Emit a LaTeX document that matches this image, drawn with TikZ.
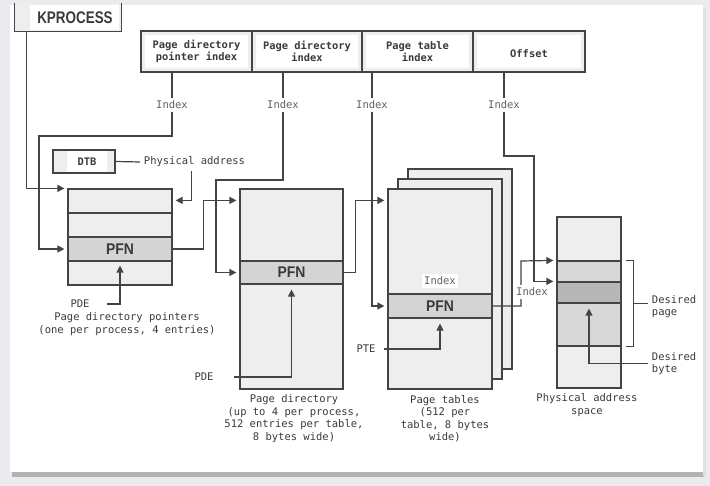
\documentclass[tikz,border=0pt]{standalone}
\usepackage{fontspec}
\setmonofont{DejaVu Sans Mono}
\setsansfont{Liberation Sans}
\usetikzlibrary{arrows.meta}
\definecolor{ln}{HTML}{444444}
\definecolor{txt}{HTML}{3A3A3A}
\definecolor{cell}{HTML}{EEEEEE}
\definecolor{pfncol}{HTML}{D4D4D4}
\definecolor{pg}{HTML}{D8D8D8}
\definecolor{byt}{HTML}{B7B7B7}
\definecolor{bg}{HTML}{E9EBEE}
\newcommand\bigsf[2]{\scalebox{#1}[1]{\sffamily\bfseries #2}}
\newcommand\pfn{\bigsf{0.9}{\fontsize{15.5}{15}\selectfont PFN}}
\begin{document}
\begin{tikzpicture}[x=1pt,y=-1pt,line width=1.2pt,color=ln,
  every node/.style={font=\ttfamily\fontsize{10.5}{12.5}\selectfont,text=txt},
  tip/.style={-{Triangle[length=7pt,width=7pt]},shorten >=3pt},
  box/.style={draw=ln,fill=cell,inner sep=0,minimum width=#1},
  row/.style 2 args={draw=ln,fill=#1,inner sep=0,minimum height=#2},
  reg/.style 2 args={fill=cell,inner sep=0,path picture={\fill[white]
    ([shift={(#1,-1pt)}]path picture bounding box.north west) rectangle
    ([shift={(-#2,1pt)}]path picture bounding box.south east);}},
  fld/.style={draw=ln,fill=cell,inner sep=0,minimum height=41pt,align=center,
    font=\ttfamily\bfseries\fontsize{10.4}{12.5}\selectfont,path picture={\fill[white]
    ([shift={(4pt,-4pt)}]path picture bounding box.north west) rectangle
    ([shift={(-4pt,4pt)}]path picture bounding box.south east);}},
  lbl/.style={fill=white,inner sep=2.5pt,text=ln!85}]
% page and card
\fill[bg] (0,0) rectangle (710,486);
\fill[black!30] (12,470) rectangle (704,477);
\fill[black!12] (703,8) rectangle (706,476);
\fill[white] (10,5) rectangle (703,472);
\useasboundingbox (0,0) rectangle (710,486);
% registers
\node[reg={15pt}{2pt},minimum width=106pt,minimum height=27pt] (kproc) at (68,17.5) {};
\draw (kproc.north west) |- (kproc.south east) -- (kproc.north east);
\node at ([xshift=7pt]kproc.center) {\bigsf{0.8}{\fontsize{16.8}{17}\selectfont KPROCESS}};
\node[reg={14pt}{8pt},draw=ln,minimum width=62pt,minimum height=23pt] (dtb) at (84,161.5) {};
\node[font=\ttfamily\bfseries\fontsize{10.4}{12.5}\selectfont] at ([xshift=3pt]dtb.center) {DTB};
\node[anchor=west] (phys) at (140,162) {Physical address};
% virtual address fields
\foreach \n/\x/\w/\t in {1/196.5/111/{Page directory\\pointer index},2/307/110/{Page directory\\index},
  3/417.5/111/{Page table\\index},4/529/112/{\mbox{}\\Offset}}
  \node[fld,minimum width=\w pt] (f\n) at (\x,51.5) {\t};
\foreach \n/\x in {1/172,2/283,3/372,4/504} {
  \node[lbl] (ix\n) at (\x,105) {Index};
  \draw (ix\n.north |- f\n.south) -- (ix\n.north);
}
% page directory pointers
\foreach \n/\y/\c in {a/201/cell,b/225/cell,c/249/pfncol,d/273/cell}
  \node[box=104pt,row={\c}{24pt}] (pdpt\n) at (120,\y) {};
\node at (pdptc) {\pfn};
% page directory
\node[box=103pt,minimum height=200pt] (pd) at (291.5,289) {};
\node[box=103pt,row={pfncol}{23pt}] (pdpfn) at (291.5,272.5) {\pfn};
% page tables
\foreach \s/\o in {c/20,b/10,a/0}
  \node[box=104pt,minimum height=200pt] (pt\s) at (440+\o,289-\o) {};
\node[box=104pt,row={pfncol}{24pt}] (ptpfn) at (440,306) {\pfn};
\node[lbl] (ix6) at (440,281) {Index};
% physical memory
\foreach \n/\y/\h/\c in {a/239/44/cell,b/271.5/21/pg,c/292.5/21/byt,d/324.5/43/pg,e/367/42/cell}
  \node[box=64pt,row={\c}{\h pt}] (ph\n) at (589,\y) {};
% connectors
\draw[tip] ([xshift=12pt]kproc.south west) |- (pdpta.north west);
\draw (dtb.east) -- (phys.west);
\draw[tip] ([xshift=-3pt]phys.south) |- ([yshift=-12pt]pdpta.north east);
\draw[tip] (ix1.south) |- (39,136) |- (pdptc.west);
\draw[tip] (pdptc.east) -- ++(31,0) |- ([yshift=-12pt]pd.north west);
\draw[tip] (ix2.south) |- (216,180) |- (pdpfn.west);
\draw[tip] (pdpfn.east) -- ++(12,0) |- ([yshift=-12pt]pta.north west);
\draw[tip] (ix3.south) |- (ptpfn.west);
\coordinate (t5) at (521,261);
\draw[tip] (ptpfn.east) -| (t5) -- (phb.north west);
\node[lbl] (ix5) at (532,292) {Index};
\draw[tip] (ix4.south) |- (534,156) |- (phc.north west);
% entries
\node (pde1) at (80,304) {PDE};
\draw[tip,shorten >=4pt] ([xshift=14pt]pde1.east) -| (pdptc.south);
\node (pde2) at (204,377) {PDE};
\draw[tip,shorten >=5pt] ([xshift=17pt]pde2.east) -| (pdpfn.south);
\node (pte) at (366,349) {PTE};
\draw[tip,shorten >=5pt] ([xshift=5pt]pte.east) -| (ptpfn.south);
% desired page / byte
\node[anchor=west,align=left] (dpage) at (648,306.5) {Desired\\page};
\draw ([xshift=4pt]phb.north east) -- ++(8,0) |- ([xshift=4pt]phd.south east);
\draw ([xshift=12pt]phc.south east) -- (dpage.west |- phc.south);
\node[anchor=west,align=left] (dbyte) at (648,363.5) {Desired\\byte};
\draw[tip,shorten >=5pt] (dbyte.west) -| (phc.south);
% captions
\node[align=center] (cap1) at (127,324) {Page directory pointers\\(one per process, 4 entries)};
\node[align=center] (cap2) at (294,418.5) {Page directory\\(up to 4 per process,\\512 entries per table,\\8 bytes wide)};
\node[align=center] (cap3) at (445,418.5) {Page tables\\(512 per\\table, 8 bytes\\wide)};
\node[align=center] (cap4) at (587,405) {Physical address\\space};
\end{tikzpicture}
\end{document}
